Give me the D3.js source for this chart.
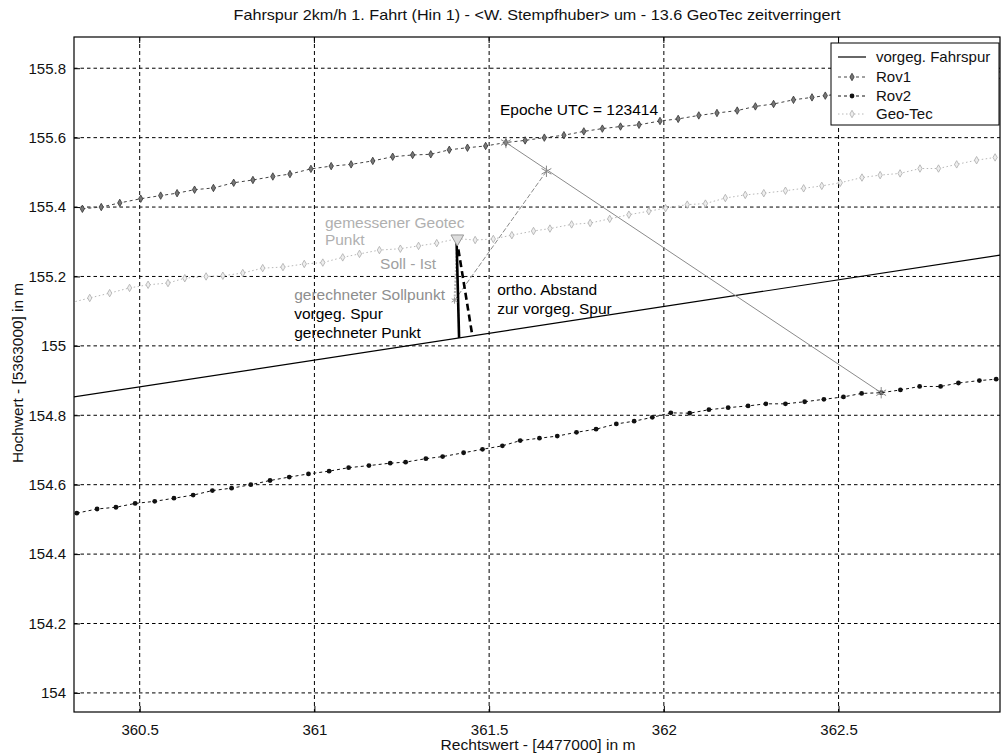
<!DOCTYPE html>
<html><head><meta charset="utf-8">
<script src="https://cdn.jsdelivr.net/npm/d3@7"></script>
<style>
html,body{margin:0;padding:0;background:#fff;}
svg{display:block;font-family:"Liberation Sans",Arial,sans-serif;}
</style></head>
<body>
<svg id="chart" width="1001" height="753"></svg>
<script>
// ---------- data ----------
const titleText = "Fahrspur 2km/h 1. Fahrt (Hin 1) - <W. Stempfhuber> um - 13.6 GeoTec zeitverringert";
const xLabelText = "Rechtswert - [4477000] in m";
const yLabelText = "Hochwert - [5363000] in m";
const xTicks = [360.5, 361, 361.5, 362, 362.5];
const xTickLabels = ["360.5", "361", "361.5", "362", "362.5"];
const yTicks = [154, 154.2, 154.4, 154.6, 154.8, 155, 155.2, 155.4, 155.6, 155.8];
const yTickLabels = ["154", "154.2", "154.4", "154.6", "154.8", "155", "155.2", "155.4", "155.6", "155.8"];
const legendLabels = ["vorgeg. Fahrspur", "Rov1", "Rov2", "Geo-Tec"];

const fahrspurX = [360.30, 362.97];
const fahrspurY = [154.851, 155.263];

const rov1X = [360.336, 360.390, 360.443, 360.503, 360.560, 360.607, 360.657, 360.711, 360.769, 360.824, 360.881, 360.930,
  360.990, 361.048, 361.105, 361.167, 361.224, 361.281, 361.333, 361.386, 361.438, 361.490, 361.548, 361.603, 361.658,
  361.714, 361.771, 361.824, 361.876, 361.929, 361.989, 362.041, 362.100, 362.152, 362.210, 362.262, 362.314, 362.371,
  362.424, 362.462, 362.520, 362.575, 362.630, 362.685, 362.740, 362.795, 362.850, 362.905, 362.960];
const rov1Y = [155.395, 155.400, 155.412, 155.424, 155.433, 155.440, 155.450, 155.455, 155.470, 155.478, 155.488, 155.495,
  155.510, 155.518, 155.523, 155.533, 155.545, 155.550, 155.552, 155.565, 155.571, 155.576, 155.586, 155.592, 155.600,
  155.607, 155.618, 155.626, 155.632, 155.637, 155.648, 155.654, 155.664, 155.671, 155.678, 155.690, 155.697, 155.709,
  155.716, 155.721, 155.728, 155.735, 155.742, 155.748, 155.755, 155.762, 155.768, 155.774, 155.780];

const rov2X = [360.320, 360.378, 360.432, 360.487, 360.543, 360.598, 360.653, 360.708, 360.763, 360.818, 360.873, 360.928,
  360.983, 361.042, 361.098, 361.156, 361.217, 361.261, 361.319, 361.367, 361.427, 361.481, 361.538, 361.589, 361.644,
  361.695, 361.750, 361.806, 361.864, 361.915, 361.967, 362.020, 362.074, 362.129, 362.184, 362.241, 362.292, 362.348,
  362.403, 362.458, 362.514, 362.566, 362.622, 362.677, 362.732, 362.792, 362.843, 362.903, 362.951];
const rov2Y = [154.518, 154.530, 154.535, 154.546, 154.552, 154.561, 154.570, 154.583, 154.590, 154.600, 154.612, 154.622,
  154.631, 154.639, 154.649, 154.655, 154.662, 154.665, 154.675, 154.681, 154.692, 154.702, 154.712, 154.727, 154.734,
  154.740, 154.751, 154.760, 154.775, 154.783, 154.794, 154.807, 154.806, 154.816, 154.822, 154.827, 154.833, 154.833,
  154.839, 154.846, 154.853, 154.863, 154.865, 154.873, 154.883, 154.883, 154.893, 154.900, 154.904];

const geoX = [360.305, 360.357, 360.414, 360.471, 360.524, 360.581, 360.629, 360.690, 360.738, 360.795, 360.852, 360.910,
  360.971, 361.024, 361.081, 361.129, 361.186, 361.246, 361.298, 361.350, 361.409, 361.460, 361.512, 361.565, 361.627,
  361.674, 361.736, 361.789, 361.845, 361.900, 361.957, 362.005, 362.067, 362.119, 362.176, 362.233, 362.286, 362.348,
  362.400, 362.452, 362.505, 362.567, 362.619, 362.676, 362.733, 362.786, 362.838, 362.895, 362.948];
const geoY = [155.125, 155.138, 155.152, 155.167, 155.176, 155.181, 155.195, 155.200, 155.202, 155.210, 155.224, 155.227,
  155.236, 155.240, 155.255, 155.265, 155.276, 155.280, 155.288, 155.296, 155.309, 155.305, 155.308, 155.319, 155.331,
  155.338, 155.350, 155.354, 155.366, 155.378, 155.388, 155.397, 155.407, 155.410, 155.426, 155.435, 155.440, 155.447,
  155.454, 155.461, 155.470, 155.485, 155.492, 155.497, 155.511, 155.511, 155.523, 155.535, 155.543];

// construction points (epoch 123414)
const rov1StarPt = [361.548, 155.586];
const rov2StarPt = [362.622, 154.865];
const interpStarPt = [361.664, 155.503];
const measuredPt = [361.409, 155.309];
const sollPt = [361.401, 155.131];
const verticalStart = [361.407, 155.297];
const verticalEnd = [361.414, 155.023];
const orthoStart = [361.412, 155.278];
const orthoEnd = [361.452, 155.029];

const annotations = [
  {text: "Epoche UTC = 123414", x: 361.531, y: 155.682, color: "#000"},
  {text: "gemessener Geotec", x: 361.030, y: 155.354, color: "#b0b0b0"},
  {text: "Punkt", x: 361.030, y: 155.307, color: "#b0b0b0"},
  {text: "Soll - Ist", x: 361.188, y: 155.236, color: "#a0a0a0"},
  {text: "gerechneter Sollpunkt", x: 360.942, y: 155.147, color: "#8e8e8e"},
  {text: "vorgeg. Spur", x: 360.942, y: 155.093, color: "#000"},
  {text: "gerechneter Punkt", x: 360.942, y: 155.038, color: "#000"},
  {text: "ortho. Abstand", x: 361.523, y: 155.162, color: "#000"},
  {text: "zur vorgeg. Spur", x: 361.523, y: 155.107, color: "#000"}
];

// ---------- layout ----------
const L = 74, R = 1000, T = 37, B = 712;
const svg = d3.select("#chart");
const x = d3.scaleLinear().domain([360.312, 362.962]).range([L, R]);
const y = d3.scaleLinear().domain([153.945, 155.890]).range([B, T]);

svg.append("defs").append("clipPath").attr("id", "clip")
  .append("rect").attr("x", L).attr("y", T).attr("width", R - L).attr("height", B - T);

// grid
const grid = svg.append("g");
grid.selectAll(".vg").data(xTicks).join("line")
  .attr("x1", d => x(d)).attr("x2", d => x(d)).attr("y1", T).attr("y2", B)
  .attr("stroke", "#000").attr("stroke-width", 1).attr("stroke-dasharray", "4,3");
grid.selectAll(".hg").data(yTicks).join("line")
  .attr("y1", d => y(d)).attr("y2", d => y(d)).attr("x1", L).attr("x2", R)
  .attr("stroke", "#000").attr("stroke-width", 1).attr("stroke-dasharray", "3.5,3");

// axes
const tickFont = 15;
const xAxis = d3.axisBottom(x).tickValues(xTicks).tickFormat((d, i) => xTickLabels[i]).tickSizeInner(-6).tickSizeOuter(0).tickPadding(12);
const yAxis = d3.axisLeft(y).tickValues(yTicks).tickFormat((d, i) => yTickLabels[i]).tickSizeInner(-6).tickSizeOuter(0).tickPadding(10);
const gx = svg.append("g").attr("transform", `translate(0,${B})`).call(xAxis);
const gy = svg.append("g").attr("transform", `translate(${L},0)`).call(yAxis);
[gx, gy].forEach(g => {
  g.select(".domain").remove();
  g.selectAll("text").attr("font-size", tickFont).attr("fill", "#111").attr("font-family", "Liberation Sans, Arial, sans-serif");
  g.selectAll("line").attr("stroke", "#000");
});
gy.selectAll("text").attr("x", -8);
svg.append("g").selectAll("line").data(xTicks).join("line")
  .attr("x1", d => x(d)).attr("x2", d => x(d)).attr("y1", T).attr("y2", T + 6).attr("stroke", "#000");

// frame
svg.append("rect").attr("x", L).attr("y", T).attr("width", R - L).attr("height", B - T)
  .attr("fill", "none").attr("stroke", "#000").attr("stroke-width", 1.2);

const plot = svg.append("g").attr("clip-path", "url(#clip)");
const lineGen = d3.line().x(d => x(d[0])).y(d => y(d[1]));
const zip = (a, b) => a.map((v, i) => [v, b[i]]);

// track
plot.append("path").datum(zip(fahrspurX, fahrspurY)).attr("d", lineGen)
  .attr("fill", "none").attr("stroke", "#000").attr("stroke-width", 1.2);

// Geo-Tec
const geoPts = zip(geoX, geoY);
plot.append("path").datum(geoPts).attr("d", lineGen)
  .attr("fill", "none").attr("stroke", "#b8b8b8").attr("stroke-width", 1).attr("stroke-dasharray", "1.5,2.5");
const diamond = d3.symbol().type(d3.symbolDiamond).size(16);
plot.selectAll(".geo").data(geoPts).join("path")
  .attr("d", diamond).attr("transform", d => `translate(${x(d[0])},${y(d[1])})`)
  .attr("fill", "#eee").attr("stroke", "#acacac").attr("stroke-width", 0.8);

// Rov1
const rov1Pts = zip(rov1X, rov1Y);
plot.append("path").datum(rov1Pts).attr("d", lineGen)
  .attr("fill", "none").attr("stroke", "#444").attr("stroke-width", 1).attr("stroke-dasharray", "3,3");
plot.selectAll(".r1").data(rov1Pts).join("path")
  .attr("d", diamond).attr("transform", d => `translate(${x(d[0])},${y(d[1])})`)
  .attr("fill", "#777").attr("stroke", "#333").attr("stroke-width", 0.8);

// Rov2
const rov2Pts = zip(rov2X, rov2Y);
plot.append("path").datum(rov2Pts).attr("d", lineGen)
  .attr("fill", "none").attr("stroke", "#111").attr("stroke-width", 1).attr("stroke-dasharray", "3,3");
plot.selectAll(".r2").data(rov2Pts).join("circle")
  .attr("cx", d => x(d[0])).attr("cy", d => y(d[1])).attr("r", 2.4)
  .attr("fill", "#111");

// construction lines
const seg = (a, b, stroke, w, dash) => plot.append("line")
  .attr("x1", x(a[0])).attr("y1", y(a[1])).attr("x2", x(b[0])).attr("y2", y(b[1]))
  .attr("stroke", stroke).attr("stroke-width", w).attr("stroke-dasharray", dash || null);
seg(rov1StarPt, rov2StarPt, "#8a8a8a", 1);
seg(interpStarPt, sollPt, "#8a8a8a", 1, "5,2");
seg(measuredPt, sollPt, "#b5b5b5", 2, "2,1.5");
seg(verticalStart, verticalEnd, "#000", 2.6);
seg(orthoStart, orthoEnd, "#000", 2.6, "7,4");

// special markers
const star = d3.symbol().type(d3.symbolAsterisk).size(90);
[rov1StarPt, interpStarPt, rov2StarPt].forEach(p => {
  plot.append("path").attr("d", star).attr("transform", `translate(${x(p[0])},${y(p[1])})`)
    .attr("fill", "none").attr("stroke", "#888").attr("stroke-width", 1);
});
plot.append("path").attr("d", d3.symbol().type(d3.symbolAsterisk).size(30))
  .attr("transform", `translate(${x(sollPt[0])},${y(sollPt[1])})`)
  .attr("fill", "none").attr("stroke", "#999").attr("stroke-width", 1);
plot.append("path").attr("d", d3.symbol().type(d3.symbolTriangle).size(70))
  .attr("transform", `translate(${x(measuredPt[0])},${y(measuredPt[1])}) rotate(180)`)
  .attr("fill", "#ddd").attr("stroke", "#999").attr("stroke-width", 1);

// annotations
svg.append("g").selectAll("text").data(annotations).join("text")
  .attr("x", d => x(d.x)).attr("y", d => y(d.y)).attr("dy", "0.35em")
  .attr("font-size", 15.5).attr("fill", d => d.color).text(d => d.text);

// title & labels
svg.append("text").attr("x", (L + R) / 2).attr("y", 15).attr("dy", "0.35em")
  .attr("text-anchor", "middle").attr("font-size", 14.5).attr("fill", "#111")
  .attr("textLength", 607).attr("lengthAdjust", "spacingAndGlyphs").text(titleText);
svg.append("text").attr("x", 538).attr("y", 745).attr("dy", "0.35em")
  .attr("text-anchor", "middle").attr("font-size", 15).attr("fill", "#111")
  .attr("textLength", 195).attr("lengthAdjust", "spacingAndGlyphs").text(xLabelText);
svg.append("text").attr("transform", `translate(18,373) rotate(-90)`).attr("dy", "0.35em")
  .attr("text-anchor", "middle").attr("font-size", 15).attr("fill", "#111")
  .attr("textLength", 180).attr("lengthAdjust", "spacingAndGlyphs").text(yLabelText);

// legend
const lg = svg.append("g");
lg.append("rect").attr("x", 831).attr("y", 43).attr("width", 168).attr("height", 82)
  .attr("fill", "#fff").attr("stroke", "#000").attr("stroke-width", 1);
const rowsY = [57, 77, 96, 114];
const styles = [
  {stroke: "#000", dash: null, w: 1.2, mark: null},
  {stroke: "#444", dash: "3,3", w: 1, mark: "r1"},
  {stroke: "#111", dash: "3,3", w: 1, mark: "r2"},
  {stroke: "#b8b8b8", dash: "1.5,2.5", w: 1, mark: "geo"}
];
legendLabels.forEach((lab, i) => {
  const s = styles[i], yy = rowsY[i];
  lg.append("line").attr("x1", 838).attr("x2", 866).attr("y1", yy).attr("y2", yy)
    .attr("stroke", s.stroke).attr("stroke-width", s.w).attr("stroke-dasharray", s.dash);
  if (s.mark === "r1") lg.append("path").attr("d", diamond).attr("transform", `translate(852,${yy})`).attr("fill", "#777").attr("stroke", "#333").attr("stroke-width", 0.8);
  if (s.mark === "r2") lg.append("circle").attr("cx", 852).attr("cy", yy).attr("r", 2.4).attr("fill", "#111");
  if (s.mark === "geo") lg.append("path").attr("d", diamond).attr("transform", `translate(852,${yy})`).attr("fill", "#eee").attr("stroke", "#acacac").attr("stroke-width", 0.8);
  lg.append("text").attr("x", 876).attr("y", yy).attr("dy", "0.35em").attr("font-size", 15).attr("fill", "#111").text(lab);
});
</script>
</body></html>
